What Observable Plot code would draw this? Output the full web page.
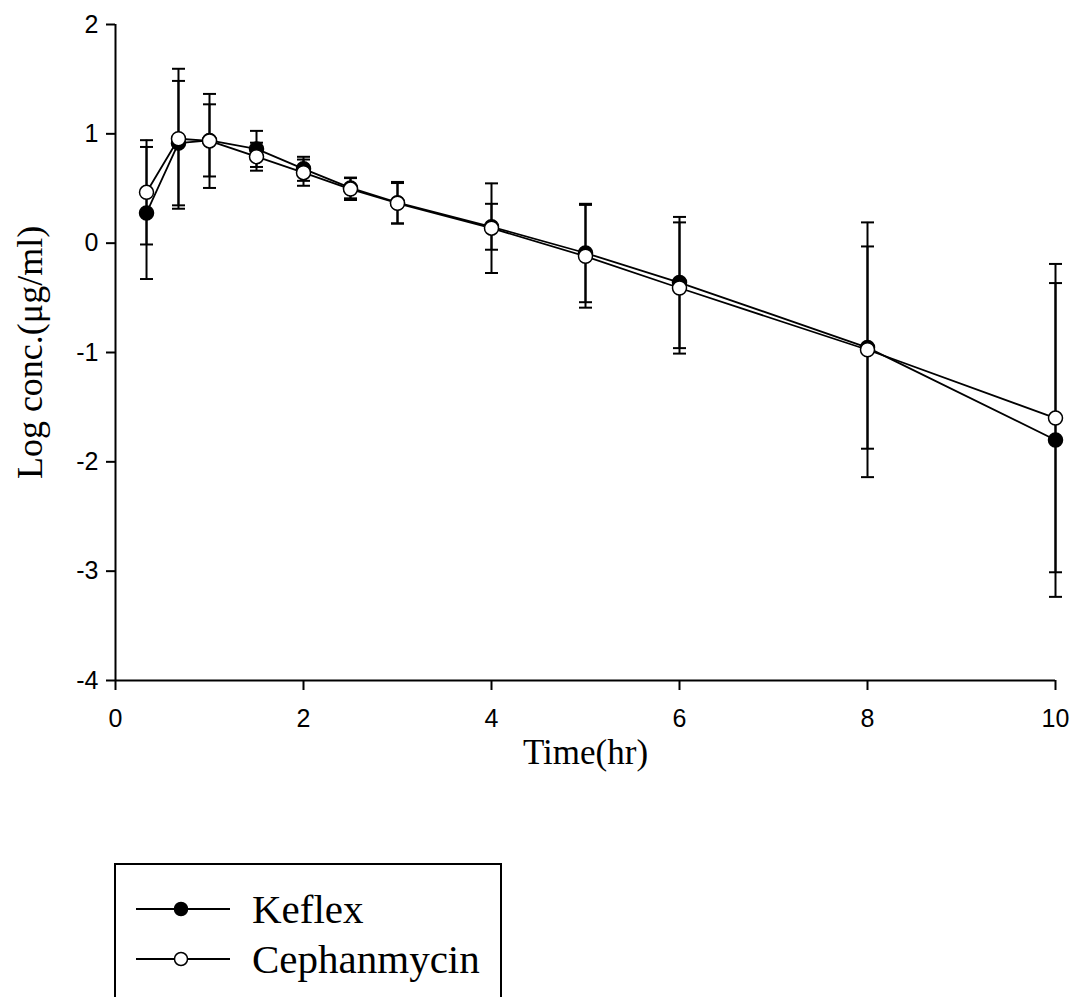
<!DOCTYPE html>
<html>
<head>
<meta charset="utf-8">
<script src="https://cdn.jsdelivr.net/npm/d3@7"></script>
<script src="https://cdn.jsdelivr.net/npm/@observablehq/plot@0.6"></script>
<style>
  html, body { margin: 0; padding: 0; background: #fff; overflow: hidden; }
  #wrap { position: relative; width: 1074px; height: 997px; overflow: hidden; }
  #legend { position: absolute; left: 114px; top: 863px; width: 388px; height: 160px;
            border: 2px solid #000; box-sizing: border-box; }
  .row { position: absolute; left: 0; height: 40px; display: flex; align-items: center; }
  .row span { font-family: "Liberation Serif", "Times New Roman", serif; font-size: 41px; color: #000; margin-left: 21px; line-height: 40px; }
</style>
</head>
<body>
<div id="wrap"><div id="chart"></div><div id="legend"></div></div>
<script>
const times      = [0.33, 0.67, 1, 1.5, 2, 2.5, 3, 4, 5, 6, 8, 10];
const keflexMean = [0.276, 0.915, 0.94, 0.862, 0.68, 0.505, 0.37, 0.15, -0.09, -0.36, -0.955, -1.80];
const keflexSD   = [0.604, 0.569, 0.33, 0.165, 0.11, 0.095, 0.19, 0.21, 0.45, 0.60, 0.925, 1.435];
const cephMean   = [0.465, 0.955, 0.935, 0.791, 0.645, 0.495, 0.365, 0.137, -0.12, -0.41, -0.975, -1.60];
const cephSD     = [0.477, 0.64, 0.43, 0.128, 0.12, 0.10, 0.185, 0.41, 0.47, 0.60, 1.165, 1.41];
const seriesNames = ["Keflex", "Cephanmycin"];
const xTicks = [0, 2, 4, 6, 8, 10];
const yTicks = [-4, -3, -2, -1, 0, 1, 2];
const xLabel = "Time(hr)";
const yLabel = "Log conc.(μg/ml)";

const rows = [];
times.forEach((t, i) => {
  rows.push({series: seriesNames[0], t, m: keflexMean[i], sd: keflexSD[i]});
});
times.forEach((t, i) => {
  rows.push({series: seriesNames[1], t, m: cephMean[i], sd: cephSD[i]});
});
const fills = {Keflex: "#000", Cephanmycin: "#fff"};

// horizontal cap symbol for error bars
const capSymbol = {
  draw(context, size) {
    const r = Math.sqrt(size / Math.PI);
    context.moveTo(-r, 0);
    context.lineTo(r, 0);
  }
};

const capRows = rows.flatMap(d => [{t: d.t, y: d.m + d.sd}, {t: d.t, y: d.m - d.sd}]);
const serif = "'Liberation Serif', 'Times New Roman', serif";

const plot = Plot.plot({
  width: 1074,
  height: 800,
  marginLeft: 115,
  marginRight: 19,
  marginTop: 24,
  marginBottom: 120,
  style: {fontFamily: "'Liberation Sans', Arial, sans-serif", fontSize: "25px", background: "#fff", color: "#000"},
  x: {domain: [0, 10]},
  y: {domain: [-4, 2]},
  marks: [
    Plot.axisX({ticks: xTicks, tickSize: 10, tickPadding: 19, strokeWidth: 2, tickFormat: d => String(d), label: null, fontSize: 25}),
    Plot.axisY({ticks: yTicks, tickSize: 9, tickPadding: 8, strokeWidth: 2, tickFormat: d => String(d), label: null, fontSize: 25}),
    Plot.ruleX([0], {y1: -4, y2: 2, stroke: "#000", strokeWidth: 2}),
    Plot.ruleY([-4], {x1: 0, x2: 10, stroke: "#000", strokeWidth: 2}),
    Plot.ruleX(rows, {x: "t", y1: d => d.m - d.sd, y2: d => d.m + d.sd, stroke: "#000", strokeWidth: 2}),
    Plot.dot(capRows, {x: "t", y: "y", symbol: capSymbol, r: 6.5, stroke: "#000", strokeWidth: 2, fill: "none"}),
    Plot.line(rows, {x: "t", y: "m", z: "series", stroke: "#000", strokeWidth: 1.8}),
    Plot.dot(rows.filter(d => d.series === "Keflex"), {x: "t", y: "m", r: 7, fill: "#000", stroke: "#000", strokeWidth: 1.5}),
    Plot.dot(rows.filter(d => d.series === "Cephanmycin"), {x: "t", y: "m", r: 7, fill: "#fff", stroke: "#000", strokeWidth: 1.5}),
    Plot.text([xLabel], {frameAnchor: "bottom", text: d => d, dy: 72, lineAnchor: "middle", textAnchor: "middle", fontSize: 35, fontFamily: serif, fill: "#000"}),
    Plot.text([yLabel], {frameAnchor: "left", text: d => d, dx: -85, rotate: -90, lineAnchor: "middle", textAnchor: "middle", fontSize: 36, fontFamily: serif, fill: "#000"})
  ]
});
document.getElementById("chart").appendChild(plot);

// legend
const legend = document.getElementById("legend");
const tops = [24, 74];
seriesNames.forEach((name, i) => {
  const row = document.createElement("div");
  row.className = "row";
  row.style.top = tops[i] + "px";
  row.style.left = "19px";
  const ns = "http://www.w3.org/2000/svg";
  const svg = document.createElementNS(ns, "svg");
  svg.setAttribute("width", 96);
  svg.setAttribute("height", 40);
  const ln = document.createElementNS(ns, "line");
  ln.setAttribute("x1", 1); ln.setAttribute("x2", 95);
  ln.setAttribute("y1", 20); ln.setAttribute("y2", 20);
  ln.setAttribute("stroke", "#000"); ln.setAttribute("stroke-width", 1.8);
  svg.appendChild(ln);
  const c = document.createElementNS(ns, "circle");
  c.setAttribute("cx", 46); c.setAttribute("cy", 20); c.setAttribute("r", 6.5);
  c.setAttribute("fill", fills[name]); c.setAttribute("stroke", "#000"); c.setAttribute("stroke-width", 1.5);
  svg.appendChild(c);
  row.appendChild(svg);
  const s = document.createElement("span");
  s.textContent = name;
  row.appendChild(s);
  legend.appendChild(row);
});
</script>
</body>
</html>
